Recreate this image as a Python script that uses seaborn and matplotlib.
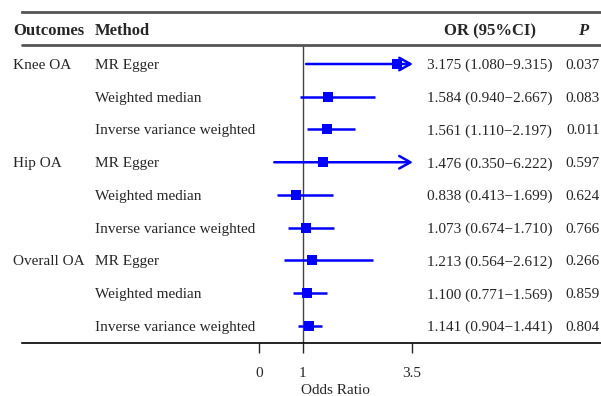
import numpy as np
import pandas as pd
import matplotlib
matplotlib.use("Agg")
import matplotlib.pyplot as plt
import matplotlib.transforms as mtransforms
import seaborn as sns

# forest plot data
outcomes = ["Knee OA", "Hip OA", "Overall OA"]
methods = ["MR Egger", "Weighted median", "Inverse variance weighted"]
or_vals = [3.175, 1.584, 1.561, 1.476, 0.838, 1.073, 1.213, 1.100, 1.141]
lower = [1.080, 0.940, 1.110, 0.350, 0.413, 0.674, 0.564, 0.771, 0.904]
upper = [9.315, 2.667, 2.197, 6.222, 1.699, 1.710, 2.612, 1.569, 1.441]
p_vals = ["0.037", "0.083", "0.011", "0.597", "0.624", "0.766", "0.266", "0.859", "0.804"]
xticks = [0, 1, 3.5]
xtick_labels = ["0", "1", "3.5"]

sns.set_style("white")
plt.rcParams["font.family"] = ["Liberation Serif", "DejaVu Serif"]
plt.rcParams["font.size"] = 11

df = pd.DataFrame({
    "row": np.arange(len(or_vals)),
    "outcome": np.repeat(outcomes, len(methods)),
    "method": methods * len(outcomes),
    "OR": or_vals,
    "lower": lower,
    "upper": upper,
    "p": p_vals,
})
x_max = 3.53  # CIs beyond this are drawn as arrows
df["clipped"] = df["upper"] > x_max

fig = plt.figure(figsize=(6.01, 3.96), dpi=100)
ax = fig.add_axes([0.0366, 0.1338, 0.9634, 0.8359])
ax.set_xlim(-5.436, 7.844)
ax.set_ylim(8.52, -1.588)

# reference line at OR = 1
ax.vlines(1, -0.58, 8.52, color="#444444", lw=1, zorder=1)

# confidence intervals
for _, r in df.iterrows():
    if r["clipped"]:
        ax.annotate("", xy=(x_max, r["row"]), xytext=(r["lower"], r["row"]),
                    arrowprops=dict(arrowstyle="->,head_length=0.8,head_width=0.45",
                                    color="blue", lw=1.8, mutation_scale=10,
                                    shrinkA=0, shrinkB=0), zorder=2)
    else:
        ax.hlines(r["row"], r["lower"], r["upper"], color="blue", lw=1.8, zorder=2)

sns.scatterplot(data=df, x="OR", y="row", marker="s", s=60, color="blue",
                edgecolor="blue", linewidth=0, ax=ax, zorder=3, legend=False)

# table lines
ax.axhline(-0.58, color="#555555", lw=2, clip_on=False)
for side in ["left", "right"]:
    ax.spines[side].set_visible(False)
ax.spines["top"].set_color("#555555")
ax.spines["top"].set_linewidth(2)
ax.spines["bottom"].set_color("black")
ax.spines["bottom"].set_linewidth(1.2)

ax.set_xticks(xticks)
ax.set_xticklabels(xtick_labels)
ax.set_yticks([])
ax.tick_params(axis="x", direction="out", length=7, width=1, pad=10, bottom=True)
ax.set_xlabel("")
ax.set_ylabel("")
fig.text(335 / 601, 1 - 390 / 396, "Odds Ratio", ha="center", va="center", fontsize=11)

# text columns
tr = mtransforms.blended_transform_factory(fig.transFigure, ax.transData)
header_y = -1.06
hdr = dict(transform=tr, va="center_baseline", fontweight="bold", fontsize=12)
ax.text(0.0216, header_y, "Outcomes", ha="left", **hdr)
ax.text(0.158, header_y, "Method", ha="left", **hdr)
ax.text(0.815, header_y, "OR (95%CI)", ha="center", **hdr)
ax.text(0.970, header_y, "P", ha="center", fontstyle="italic", **hdr)

for _, r in df.iterrows():
    if r["method"] == methods[0]:
        ax.text(0.0216, r["row"], r["outcome"], transform=tr, ha="left", va="center_baseline")
    ax.text(0.158, r["row"], r["method"], transform=tr, ha="left", va="center_baseline")
    ax.text(0.815, r["row"], f"{r['OR']:.3f} ({r['lower']:.3f}\u2212{r['upper']:.3f})",
            transform=tr, ha="center", va="center_baseline")
    ax.text(0.970, r["row"], r["p"], transform=tr, ha="center", va="center_baseline")

plt.savefig("out.png", dpi=100)
